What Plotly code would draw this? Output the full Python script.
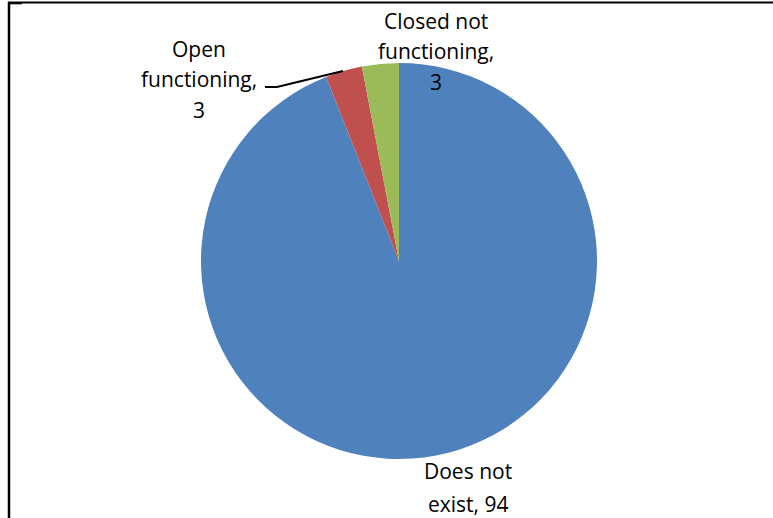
import plotly.graph_objects as go

# Slice data (clockwise from 12 o'clock)
categories = ["Does not exist", "Open functioning", "Closed not functioning"]
values = [94, 3, 3]
colors = ["#4F81BD", "#C0504D", "#9BBB59"]

# How each data label wraps: words of the category per line, and whether
# the value sits on its own final line
label_wrap = [
    (["Does not", "exist"], False),
    (["Open", "functioning"], True),
    (["Closed not", "functioning"], True),
]

W, H = 773, 518

# Label anchor (centre x, first-line centre y) and line pitch, in pixels
label_pos = [(468, 471), (199, 49), (436, 21)]
line_pitch = 30.5

fig = go.Figure(
    go.Pie(
        labels=categories,
        values=values,
        sort=False,
        direction="clockwise",
        rotation=0,
        marker=dict(colors=colors, line=dict(width=0)),
        textinfo="none",
        hoverinfo="label+value",
        showlegend=False,
        domain=dict(
            x=[(399 - 198) / W, (399 + 198) / W],
            y=[(H - 261 - 198) / H, (H - 261 + 198) / H],
        ),
    )
)


def px(x):
    return x / W


def py(y):
    return 1 - y / H


annotations = []
for (words, own_line), v, (cx, cy) in zip(label_wrap, values, label_pos):
    if own_line:
        lines = words[:-1] + [words[-1] + ","] + [str(v)]
    else:
        lines = words[:-1] + [f"{words[-1]}, {v}"]
    pitch = 32.5 if not own_line else line_pitch
    for i, line in enumerate(lines):
        annotations.append(
            dict(
                x=px(cx), y=py(cy + i * pitch),
                xref="paper", yref="paper",
                text=line, showarrow=False,
                xanchor="center", yanchor="middle",
                font=dict(family="Open Sans", size=21, color="#000000"),
            )
        )

shapes = [
    # leader line for the "Open functioning" label
    dict(type="path", xref="paper", yref="paper",
         path=f"M {px(265)} {py(87)} L {px(277)} {py(87)} L {px(343)} {py(71)}",
         line=dict(color="#000000", width=2)),
    # chart frame (top and left edges)
    dict(type="line", xref="paper", yref="paper",
         x0=px(8), x1=1, y0=py(2.5), y1=py(2.5),
         line=dict(color="#000000", width=2)),
    dict(type="line", xref="paper", yref="paper",
         x0=px(9), x1=px(9), y0=py(2), y1=0,
         line=dict(color="#000000", width=2.5)),
    dict(type="line", xref="paper", yref="paper",
         x0=px(8), x1=px(22), y0=py(3.3), y1=py(3.3),
         line=dict(color="#000000", width=2)),
]

fig.update_layout(
    width=W, height=H,
    margin=dict(l=0, r=0, t=0, b=0),
    paper_bgcolor="white",
    plot_bgcolor="white",
    annotations=annotations,
    shapes=shapes,
)

fig.write_html("out.html")
